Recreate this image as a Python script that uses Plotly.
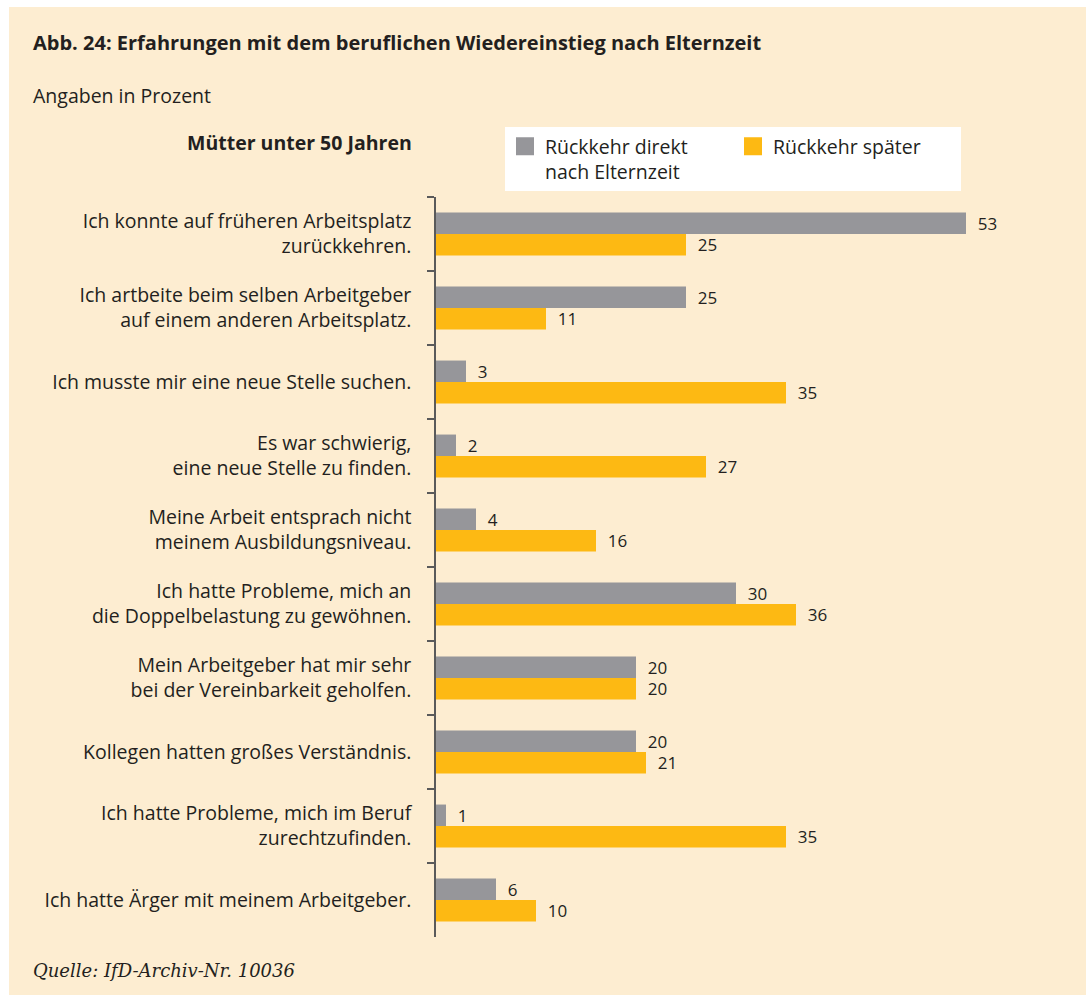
import plotly.graph_objects as go

categories = [
    "Ich konnte auf früheren Arbeitsplatz<br>zurückkehren.",
    "Ich artbeite beim selben Arbeitgeber<br>auf einem anderen Arbeitsplatz.",
    "Ich musste mir eine neue Stelle suchen.",
    "Es war schwierig,<br>eine neue Stelle zu finden.",
    "Meine Arbeit entsprach nicht<br>meinem Ausbildungsniveau.",
    "Ich hatte Probleme, mich an<br>die Doppelbelastung zu gewöhnen.",
    "Mein Arbeitgeber hat mir sehr<br>bei der Vereinbarkeit geholfen.",
    "Kollegen hatten großes Verständnis.",
    "Ich hatte Probleme, mich im Beruf<br>zurechtzufinden.",
    "Ich hatte Ärger mit meinem Arbeitgeber.",
]
direkt = [53, 25, 3, 2, 4, 30, 20, 20, 1, 6]
spaeter = [25, 11, 35, 27, 16, 36, 20, 21, 35, 10]
series_names = ["Rückkehr direkt<br>nach Elternzeit", "Rückkehr später"]

title = "Abb. 24: Erfahrungen mit dem beruflichen Wiedereinstieg nach Elternzeit"
subtitle = "Angaben in Prozent"
group_label = "Mütter unter 50 Jahren"
source = "Quelle: IfD-Archiv-Nr. 10036"

GRAY = "#96969A"
ORANGE = "#FDB913"
CREAM = "#FDEDD1"
TXT = "#231F20"
FONT = "Open Sans"
FS = 19.5
FS_NUM = 17

W, H = 1086, 995
L, R, T, B = 436, 50, 197, 58
PW, PH = W - L - R, H - T - B
XMAX = 60

def px_x(px):
    return (px - L) / PW

def px_y(py):
    return (H - B - py) / PH

NB = "\u00a0\u00a0"

fig = go.Figure()
for name, vals, col in [(series_names[0], direkt, GRAY), (series_names[1], spaeter, ORANGE)]:
    fig.add_trace(go.Bar(
        x=vals, y=categories, orientation="h", name=name,
        marker=dict(color=col, line=dict(width=0)),
        text=[NB + str(v) for v in vals], textposition="outside",
        outsidetextfont=dict(family=FONT, size=FS_NUM, color=TXT),
        constraintext="none", cliponaxis=False,
        hoverinfo="skip", showlegend=False,
    ))
# legend entries with larger square swatches
for name, col in [(series_names[0], GRAY), (series_names[1], ORANGE)]:
    fig.add_trace(go.Scatter(
        x=[None], y=[None], mode="markers", name=name,
        marker=dict(symbol="square", size=16, color=col, line=dict(width=2, color=col)),
        hoverinfo="skip",
    ))

fig.update_layout(
    width=W, height=H,
    margin=dict(l=L, r=R, t=T, b=B, pad=0),
    paper_bgcolor=CREAM,
    plot_bgcolor="rgba(0,0,0,0)",
    barmode="group", bargap=0.42, bargroupgap=0,
    font=dict(family=FONT, size=FS, color=TXT),
    xaxis=dict(range=[0, XMAX], visible=False, fixedrange=True),
    yaxis=dict(
        type="category", autorange="reversed", fixedrange=True,
        tickson="boundaries", ticks="outside", ticklen=7, tickwidth=1.5,
        tickcolor="#5A5A5A", showline=True, linecolor="#5A5A5A", linewidth=1.5,
        showgrid=False, zeroline=False, ticklabelstandoff=19,
        tickfont=dict(family=FONT, size=FS, color=TXT),
    ),
    legend=dict(
        orientation="h", x=px_x(505), y=px_y(127), xanchor="left", yanchor="top",
        bgcolor="white", borderwidth=0, valign="top",
        font=dict(family=FONT, size=FS, color=TXT),
        traceorder="normal", entrywidth=183, itemsizing="trace",
    ),
    shapes=[
        # white strips outside the cream panel (left and top)
        dict(type="rect", xref="paper", yref="paper",
             x0=px_x(-20), x1=px_x(9), y0=px_y(H + 20), y1=px_y(-20),
             fillcolor="white", line=dict(width=0), layer="below"),
        dict(type="rect", xref="paper", yref="paper",
             x0=px_x(-20), x1=px_x(W + 20), y0=px_y(7), y1=px_y(-20),
             fillcolor="white", line=dict(width=0), layer="below"),
    ],
    annotations=[
        dict(text="<b>" + title + "</b>", xref="paper", yref="paper",
             x=px_x(31), y=px_y(42), xanchor="left", yanchor="middle",
             showarrow=False, font=dict(family=FONT, size=20, color=TXT)),
        dict(text=subtitle, xref="paper", yref="paper",
             x=px_x(31), y=px_y(95), xanchor="left", yanchor="middle",
             showarrow=False, font=dict(family=FONT, size=FS, color=TXT)),
        dict(text="<b>" + group_label + "</b>", xref="paper", yref="paper",
             x=px_x(414), y=px_y(142), xanchor="right", yanchor="middle",
             showarrow=False, font=dict(family=FONT, size=FS, color=TXT)),
        dict(text="<i>" + source + "</i>", xref="paper", yref="paper",
             x=px_x(31), y=px_y(970), xanchor="left", yanchor="middle",
             showarrow=False, font=dict(family="DejaVu Serif", size=18, color=TXT)),
    ],
)

fig.write_html("out.html", config={"displayModeBar": False},
               post_script="document.body.style.margin='0';")
